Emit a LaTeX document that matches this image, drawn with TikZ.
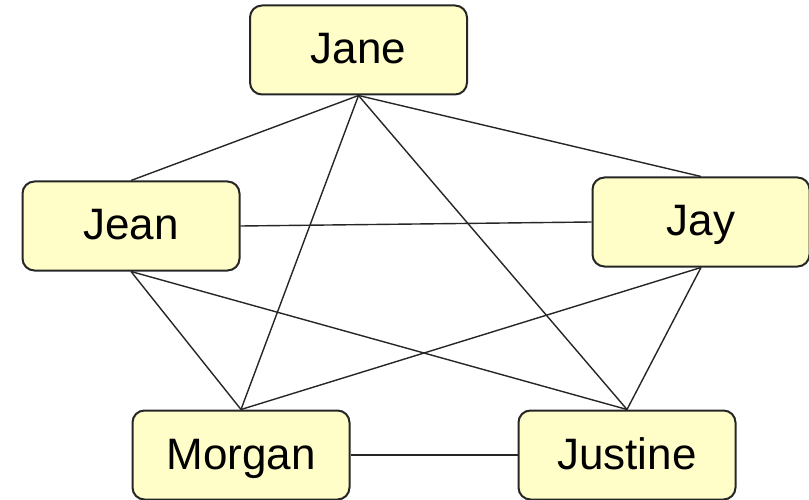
\documentclass[tikz,border=0pt]{standalone}
\usepackage{fontspec}
\setmainfont{Liberation Sans}
\begin{document}
\begin{tikzpicture}[x=1pt,y=-1pt,
  person/.style={draw=black!85, line width=2pt, fill=boxfill, rounded corners=12pt,
    minimum width=217pt, minimum height=89pt, inner sep=0pt,
    text height=31pt, text depth=3pt,
    font=\fontsize{44}{52}\selectfont},
  link/.style={draw=black!85, line width=1.4pt}]
\definecolor{boxfill}{HTML}{FFFDC8}
\useasboundingbox (0,0) rectangle (809,500);
% people
\node[person] (jane)    at (358.5,50)  {Jane};
\node[person] (jean)    at (131,226)   {Jean};
\node[person] (jay)     at (701,222)   {Jay};
\node[person] (morgan)  at (241,455)   {Morgan};
\node[person] (justine) at (627,455)   {Justine};
% acquaintance links, from anchor to anchor
\draw[link] (jane.south) -- (jean.north);
\draw[link] (jane.south) -- (jay.north);
\draw[link] (jane.south) -- (morgan.north);
\draw[link] (jane.south) -- (justine.north);
\draw[link] (jean.east) -- (jay.west);
\draw[link] (jean.south) -- (morgan.north);
\draw[link] (jean.south) -- (justine.north);
\draw[link] (jay.south) -- (morgan.north);
\draw[link] (jay.south) -- (justine.north);
\draw[link] (morgan.east) -- (justine.west);
\end{tikzpicture}
\end{document}
